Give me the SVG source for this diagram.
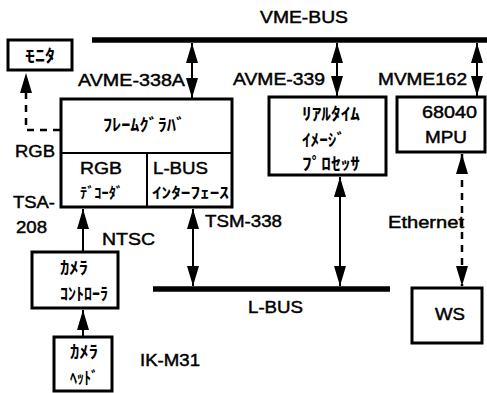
<svg xmlns="http://www.w3.org/2000/svg" width="487" height="393" viewBox="0 0 487 393">
<defs>
<marker id="ah" viewBox="0 0 20 12" refX="20" refY="6" markerWidth="20" markerHeight="12" markerUnits="userSpaceOnUse" orient="auto-start-reverse">
<path d="M0,0 L20,6 L0,12 Z" fill="#000"/>
</marker>
<style>
.box{fill:#fff;stroke:#000;stroke-width:3}
.bus{stroke:#000;stroke-width:5.5;fill:none}
.ln{stroke:#000;stroke-width:2;fill:none}
.dash{stroke:#000;stroke-width:2.5;fill:none;stroke-dasharray:7,6}
.lat{font-family:"Liberation Sans",Arial,sans-serif;font-size:17px;fill:#000;stroke:#000;stroke-width:0.45}
.jp{font-family:"Noto Sans CJK JP","Noto Sans",sans-serif;font-size:17px;font-weight:bold;fill:#000}
.jps{font-size:15px}
</style>
</defs>
<rect width="487" height="393" fill="#fff"/>

<g id="connectors">
<line class="bus" x1="92" y1="40" x2="487" y2="40"/>
<line class="bus" x1="153" y1="289" x2="390" y2="289"/>
<line class="ln" x1="192" y1="43" x2="192" y2="98" marker-start="url(#ah)" marker-end="url(#ah)"/>
<line class="ln" x1="337" y1="43" x2="337" y2="96" marker-start="url(#ah)" marker-end="url(#ah)"/>
<line class="ln" x1="477" y1="43" x2="477" y2="96" marker-start="url(#ah)" marker-end="url(#ah)"/>
<line class="ln" x1="193" y1="209" x2="193" y2="286" marker-start="url(#ah)" marker-end="url(#ah)"/>
<line class="ln" x1="340" y1="177" x2="340" y2="286" marker-start="url(#ah)" marker-end="url(#ah)"/>
<line class="ln" x1="83" y1="251" x2="83" y2="209" marker-end="url(#ah)"/>
<line class="ln" x1="83" y1="336" x2="83" y2="310" marker-end="url(#ah)"/>
<path class="dash" d="M60,130 H26 V73" marker-end="url(#ah)"/>
<line class="dash" x1="462" y1="154" x2="462" y2="286" marker-start="url(#ah)" marker-end="url(#ah)"/>
</g>

<g id="vme-bus-label"><text class="lat" x="260" y="23" textLength="88" lengthAdjust="spacingAndGlyphs">VME-BUS</text></g>
<g id="l-bus-label"><text class="lat" x="248" y="313" textLength="55" lengthAdjust="spacingAndGlyphs">L-BUS</text></g>

<g id="monitor">
<rect class="box" x="8" y="40" width="64" height="30"/>
<text class="jp" x="25" y="62" textLength="30" lengthAdjust="spacingAndGlyphs">ﾓﾆﾀ</text>
</g>

<g id="frame-grabber">
<rect class="box" x="61" y="99" width="171" height="108"/>
<line class="ln" x1="61" y1="153" x2="232" y2="153" stroke-width="3"/>
<line class="ln" x1="147" y1="153" x2="147" y2="207" stroke-width="3"/>
<text class="jp" x="103" y="131" textLength="82" lengthAdjust="spacingAndGlyphs">ﾌﾚｰﾑｸﾞﾗﾊﾞ</text>
<text class="lat" x="80" y="174" textLength="42" lengthAdjust="spacingAndGlyphs">RGB</text>
<text class="jp jps" x="80" y="198" textLength="43" lengthAdjust="spacingAndGlyphs">ﾃﾞｺｰﾀﾞ</text>
<text class="lat" x="153" y="174" textLength="55" lengthAdjust="spacingAndGlyphs">L-BUS</text>
<text class="jp jps" x="152" y="198" textLength="77" lengthAdjust="spacingAndGlyphs">ｲﾝﾀｰﾌｪｰｽ</text>
<text class="lat" x="78" y="86" textLength="107" lengthAdjust="spacingAndGlyphs">AVME-338A</text>
<text class="lat" x="15" y="157" textLength="40" lengthAdjust="spacingAndGlyphs">RGB</text>
<text class="lat" x="13" y="208" textLength="42" lengthAdjust="spacingAndGlyphs">TSA-</text>
<text class="lat" x="16" y="233" textLength="31" lengthAdjust="spacingAndGlyphs">208</text>
<text class="lat" x="205" y="227" textLength="77" lengthAdjust="spacingAndGlyphs">TSM-338</text>
</g>

<g id="image-processor">
<rect class="box" x="269" y="97" width="117" height="78"/>
<text class="jp" x="302" y="120" textLength="58" lengthAdjust="spacingAndGlyphs">ﾘｱﾙﾀｲﾑ</text>
<text class="jp" x="302" y="146" textLength="43" lengthAdjust="spacingAndGlyphs">ｲﾒｰｼﾞ</text>
<text class="jp" x="302" y="170" textLength="58" lengthAdjust="spacingAndGlyphs">ﾌﾟﾛｾｯｻ</text>
<text class="lat" x="233" y="85" textLength="92" lengthAdjust="spacingAndGlyphs">AVME-339</text>
</g>

<g id="mpu">
<rect class="box" x="397" y="97" width="88" height="55"/>
<text class="lat" x="422" y="118" textLength="55" lengthAdjust="spacingAndGlyphs">68040</text>
<text class="lat" x="425" y="143" textLength="42" lengthAdjust="spacingAndGlyphs">MPU</text>
<text class="lat" x="378" y="85" textLength="89" lengthAdjust="spacingAndGlyphs">MVME162</text>
</g>

<g id="ethernet-label"><text class="lat" x="388" y="228" textLength="76" lengthAdjust="spacingAndGlyphs">Ethernet</text></g>

<g id="ws">
<rect class="box" x="412" y="288" width="70" height="55"/>
<text class="lat" x="435" y="320" textLength="30" lengthAdjust="spacingAndGlyphs">WS</text>
</g>

<g id="camera-controller">
<rect class="box" x="32" y="252" width="86" height="56"/>
<text class="jp" x="60" y="274" textLength="28" lengthAdjust="spacingAndGlyphs">ｶﾒﾗ</text>
<text class="jp" x="60" y="300" textLength="48" lengthAdjust="spacingAndGlyphs">ｺﾝﾄﾛｰﾗ</text>
<text class="lat" x="102" y="245" textLength="53" lengthAdjust="spacingAndGlyphs">NTSC</text>
</g>

<g id="camera-head">
<rect class="box" x="54" y="337" width="58" height="54"/>
<text class="jp" x="70" y="358" textLength="28" lengthAdjust="spacingAndGlyphs">ｶﾒﾗ</text>
<text class="jp" x="70" y="384" textLength="28" lengthAdjust="spacingAndGlyphs">ﾍｯﾄﾞ</text>
<text class="lat" x="140" y="366" textLength="60" lengthAdjust="spacingAndGlyphs">IK-M31</text>
</g>
</svg>
